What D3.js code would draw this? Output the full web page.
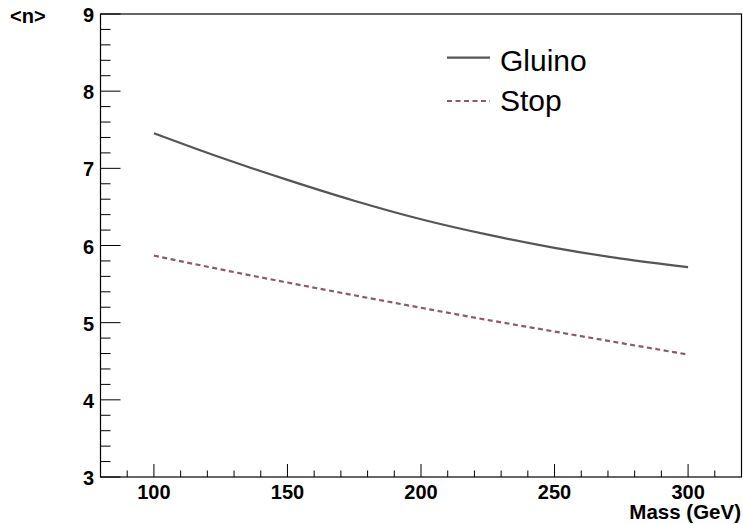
<!DOCTYPE html>
<html><head><meta charset="utf-8">
<script src="https://cdn.jsdelivr.net/npm/d3@7"></script>
<style>body{margin:0;background:#fff}svg{display:block}</style>
</head><body>
<script>
const masses = [100, 125, 150, 175, 200, 225, 250, 275, 300];
const gluino = [7.455, 7.14, 6.85, 6.58, 6.34, 6.14, 5.97, 5.83, 5.72];
const stop   = [5.869, 5.69, 5.52, 5.355, 5.193, 5.035, 4.885, 4.735, 4.587];
const xTicks = [100, 150, 200, 250, 300];
const yTicks = [3, 4, 5, 6, 7, 8, 9];
const seriesNames = ["Gluino", "Stop"];

const W = 743, H = 524;
const m = {left: 100.5, right: 741.5, top: 14, bottom: 477};
const svg = d3.select("body").append("svg").attr("width", W).attr("height", H);
const x = d3.scaleLinear().domain([80, 320]).range([m.left, m.right]);
const y = d3.scaleLinear().domain([3, 9]).range([m.bottom, m.top]);

const font = "'Liberation Sans', Arial, Helvetica, sans-serif";

// frame
svg.append("rect").attr("x", m.left).attr("y", m.top)
  .attr("width", m.right - m.left).attr("height", m.bottom - m.top)
  .attr("fill", "none").attr("stroke", "#000").attr("stroke-width", 1.2);

// x ticks
const xMinor = d3.range(90, 320, 10);
svg.append("g").selectAll("line").data(xMinor).join("line")
  .attr("x1", d => x(d)).attr("x2", d => x(d))
  .attr("y1", m.bottom).attr("y2", d => m.bottom - (d % 50 === 0 ? 13 : 6.5))
  .attr("stroke", "#000").attr("stroke-width", 1);
svg.append("g").selectAll("text").data(xTicks).join("text")
  .attr("x", d => x(d)).attr("y", 499).attr("text-anchor", "middle")
  .attr("font-family", font).attr("font-weight", "bold").attr("font-size", 20)
  .text(d => d);

// y ticks
const yMinor = d3.range(0, 31).map(i => 3 + i * 0.2);
svg.append("g").selectAll("line").data(yMinor).join("line")
  .attr("x1", m.left).attr("x2", (d, i) => m.left + (i % 5 === 0 ? 20 : 10))
  .attr("y1", d => y(d)).attr("y2", d => y(d))
  .attr("stroke", "#000").attr("stroke-width", 1);
svg.append("g").selectAll("text").data(yTicks).join("text")
  .attr("x", 94).attr("y", d => y(d) + 8).attr("text-anchor", "end")
  .attr("font-family", font).attr("font-weight", "bold").attr("font-size", 20)
  .text(d => d);

// axis titles
svg.append("text").attr("x", 741).attr("y", 519).attr("text-anchor", "end")
  .attr("font-family", font).attr("font-weight", "bold").attr("font-size", 20.5)
  .text("Mass (GeV)");
svg.append("text").attr("x", 10).attr("y", 23)
  .attr("font-family", font).attr("font-weight", "bold").attr("font-size", 20)
  .text("<n>");

// lines
const line = d3.line().x(d => x(d[0])).y(d => y(d[1])).curve(d3.curveMonotoneX);
svg.append("path").datum(masses.map((mm, i) => [mm, gluino[i]]))
  .attr("d", line).attr("fill", "none").attr("stroke", "#555555").attr("stroke-width", 2.2);
svg.append("path").datum(masses.map((mm, i) => [mm, stop[i]]))
  .attr("d", line).attr("fill", "none").attr("stroke", "#8c5a6a").attr("stroke-width", 2.2)
  .attr("stroke-dasharray", "5,3.5");

// legend
const leg = svg.append("g");
leg.append("line").attr("x1", 447).attr("x2", 490).attr("y1", 57.7).attr("y2", 57.7)
  .attr("stroke", "#555555").attr("stroke-width", 2.2);
leg.append("line").attr("x1", 447).attr("x2", 490).attr("y1", 101).attr("y2", 101)
  .attr("stroke", "#8c5a6a").attr("stroke-width", 2.2).attr("stroke-dasharray", "5,3.5");
leg.append("text").attr("x", 500).attr("y", 71).attr("font-family", font).attr("font-size", 30)
  .text(seriesNames[0]);
leg.append("text").attr("x", 500).attr("y", 111).attr("font-family", font).attr("font-size", 30)
  .text(seriesNames[1]);
</script>
</body></html>
